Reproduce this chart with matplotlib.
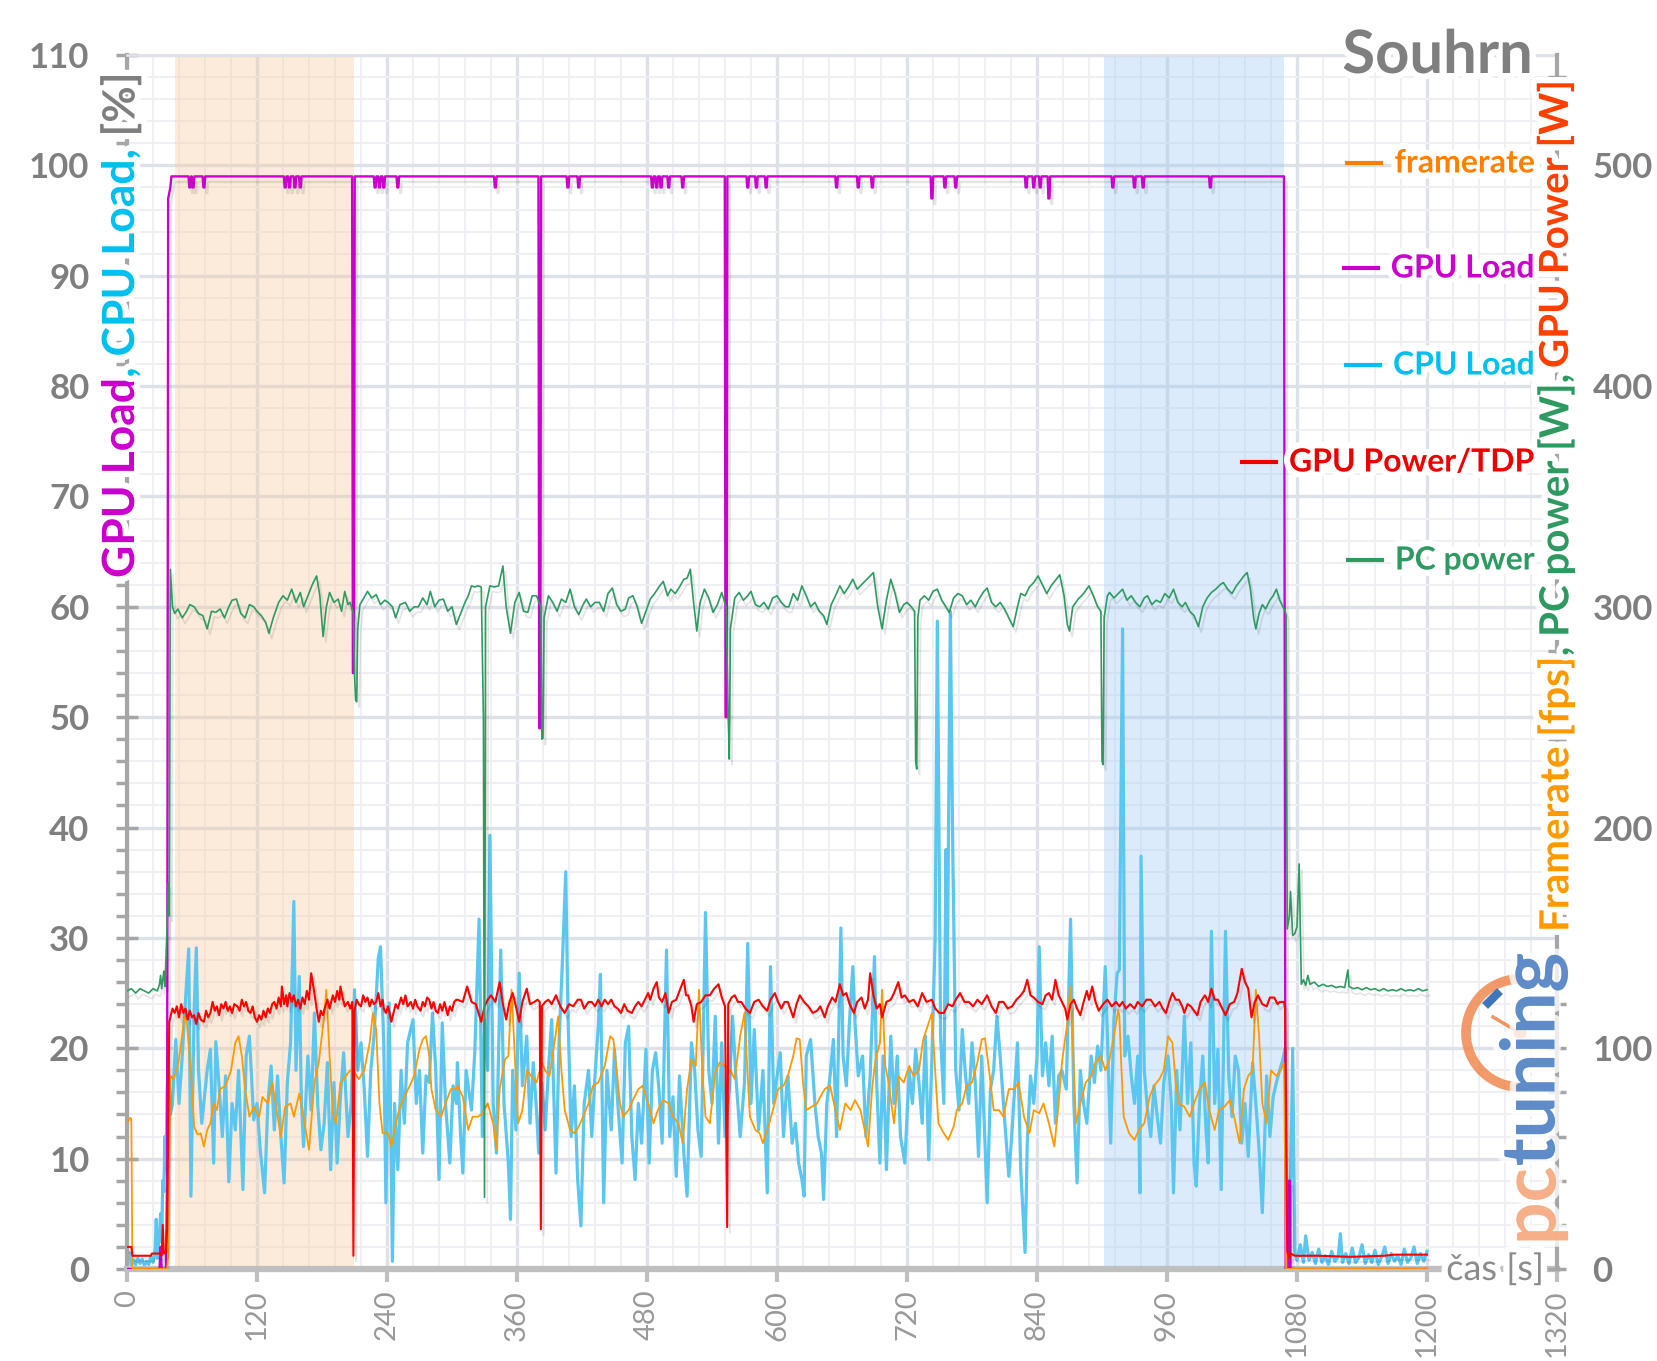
import matplotlib
matplotlib.use("Agg")
import numpy as np
import matplotlib.pyplot as plt
from matplotlib import patheffects as pe
from matplotlib.lines import Line2D
from matplotlib.patches import Arc, Circle
from matplotlib.ticker import MultipleLocator

plt.rcParams["font.family"] = ["Lato", "DejaVu Sans"]

# ---- data: (time [s], value) ----
cpu_load = [(0, 0.5), (2, 1.5), (4, 0.3), (6, 0.8), (8, 0.4), (10, 1.0), (12, 0.5), (14, 0.9), (16, 0.3),
            (18, 0.7), (20, 0.4), (22, 1.1), (24, 0.6), (26, 1.8), (27, 4.5), (28, 1.0), (30, 3.0), (31, 5.0),
            (32, 2.5), (33, 8.0), (34, 7.0), (35, 12.0), (36, 9.0), (37, 16.0), (38, 19.0), (40, 14.0),
            (42, 15), (45, 20.8), (48, 15), (51, 19.3), (54, 24.4), (57, 29), (59, 6.6), (62, 23.5), (64, 29.1),
            (66, 18), (69, 13.2), (74, 18), (77, 19.9), (80, 9.6), (82, 20.6), (85, 16.6), (88, 12), (91, 17.5),
            (94, 7.9), (97, 15), (100, 12.6), (103, 18), (107, 7.2), (110, 19.3), (113, 21.1), (117, 13.5),
            (120, 15), (123, 10.8), (127, 6.9), (130, 15), (133, 18.4), (136, 12.6), (139, 17.5), (142, 12),
            (145, 7.8), (148, 16.9), (151, 20.5), (154, 33.3), (156, 18), (159, 26.5), (161, 15), (163, 11.1),
            (167, 19.3), (170, 14.4), (173, 23.2), (176, 15), (179, 10.8), (182, 13.2), (185, 18.7), (188, 9),
            (191, 16.9), (194, 9.6), (197, 15.6), (200, 19.6), (204, 12), (207, 15), (210, 25.3), (213, 18),
            (216, 20.5), (219, 16.3), (222, 10.2), (225, 18), (228, 21.1), (232, 28.2), (234, 29.2), (237, 20.5),
            (239, 6), (242, 24.1), (245, 0.7), (247, 15), (250, 9), (253, 18), (256, 13.2), (259, 20.5),
            (264, 22.6), (267, 15), (270, 18), (273, 10.5), (276, 17.5), (279, 16.9), (282, 23.2), (285, 18),
            (288, 8.1), (291, 22.3), (294, 15), (298, 9.6), (301, 16.6), (304, 15),
            (305, 18.7), (308, 12), (310, 8.7), (313, 18), (318, 14.4), (321, 19.6), (325, 31.7), (328, 12),
            (330, 22.6), (333, 18), (335, 39.3), (338, 15), (341, 10.5), (345, 28.9), (348, 15), (352, 9.6),
            (354, 4.5), (356, 18), (359, 12.6), (362, 26.8), (365, 16.6), (369, 21.1), (372, 13.2), (375, 18.7),
            (378, 14.4), (380, 10.5), (383, 16.9), (386, 12.6), (389, 18), (392, 22.6), (396, 8.7), (399, 21.1),
            (402, 28), (405, 36), (407, 23.2), (410, 12), (413, 16.6), (416, 8.1), (419, 3.9), (422, 15),
            (426, 18), (429, 12), (432, 17.5), (435, 22), (437, 26.7), (440, 6), (443, 18), (447, 12.6),
            (450, 19.9), (453, 15), (457, 9.6), (460, 20.5), (463, 22), (466, 12), (469, 8.1), (472, 15),
            (475, 11.4), (479, 19.9), (482, 9.6), (485, 18), (488, 19.6), (491, 16.3), (494, 11.4), (498, 28.9),
            (501, 12), (504, 15.6), (507, 8.4), (510, 17.5), (514, 10.5), (517, 6.6), (521, 20.5), (524, 18),
            (527, 12.6), (530, 10.2), (534, 32.3), (537, 18), (540, 15), (543, 22.9), (546, 11.4), (549, 20.5),
            (552, 12), (556, 16.3), (559, 22.9), (562, 17.5), (566, 12), (570, 16.9), (573, 29.5), (576, 15),
            (579, 21.7), (583, 12.6), (587, 18), (591, 6.9), (594, 27.4), (597, 15), (600, 17.5), (603, 19.6),
            (606, 12), (609, 16.6),
            (610, 17.5), (614, 11.4), (617, 13.2), (620, 9.6), (623, 8.1), (625, 6.6), (627, 19.3), (631, 20.8),
            (635, 15), (638, 12), (641, 10.5), (643, 6.3), (646, 15), (649, 17.5), (652, 20.8), (655, 12),
            (659, 30.9), (661, 19.3), (664, 16.6), (667, 22.6), (670, 27.4), (672, 22.3), (675, 17.5),
            (679, 19.3), (682, 12), (686, 17.5), (690, 28.3), (692, 16.9), (695, 9.6), (698, 19.3), (701, 9),
            (705, 21.1), (708, 15), (711, 19.3), (714, 12), (718, 9.6), (722, 18), (725, 15), (728, 19.9),
            (731, 16.9), (734, 13.2), (737, 21.1), (740, 9.9), (743, 19.3), (746, 30), (748, 58.7), (751, 21.1),
            (754, 15), (756, 38), (757, 24.1), (760, 59.6), (762, 40), (765, 18), (768, 14.4), (771, 21.7),
            (774, 17.5), (777, 15), (780, 20.5), (783, 16.9), (786, 10.2), (789, 19.3), (794, 6), (797, 16.3),
            (800, 18), (803, 22.9), (806, 19.3), (809, 15), (814, 8.4), (817, 12.6), (822, 20.5), (825, 9),
            (829, 1.5), (831, 11.4), (834, 17.5), (837, 15), (840, 19.3), (842, 29.2), (845, 17.5), (848, 20.5),
            (851, 16.6), (854, 21.1), (857, 13.2), (860, 17.5), (863, 18), (867, 16.3), (871, 31.7), (874, 15),
            (877, 7.8), (880, 18), (883, 15), (886, 13.2), (890, 19.3), (893, 16.9), (896, 20.2), (899, 18),
            (903, 27.4), (908, 11.4), (911, 22.6), (914, 26.8),
            (916, 27.1), (919, 58), (921, 19.3), (924, 21.1), (927, 17.5), (930, 15), (933, 19.3), (935, 6.9),
            (936, 37.4), (939, 18), (942, 14.4), (945, 12), (948, 16.6), (951, 13.8), (954, 11.4), (957, 16.9),
            (961, 19.3), (964, 15), (966, 6.9), (969, 18), (972, 12.6), (976, 22.9), (979, 15), (982, 20.5),
            (985, 9.6), (987, 7.5), (990, 15), (993, 19.3), (996, 12.6), (998, 9.6), (1001, 30.6), (1004, 15),
            (1007, 19.9), (1010, 7.2), (1014, 30.6), (1017, 17.5), (1020, 13.8), (1023, 19.3), (1026, 18),
            (1029, 11.4), (1032, 15), (1035, 10.2), (1039, 18.7), (1042, 15), (1045, 10.8), (1048, 5.1),
            (1052, 17.5), (1055, 12), (1058, 15.6), (1061, 16.9), (1064, 18), (1067, 19), (1069, 20), (1071, 2),
            (1073, 0.5), (1076, 20), (1078, 1.5), (1080, 0.8), (1083, 2.2), (1086, 0.6), (1088, 3.0), (1091, 0.8),
            (1094, 1.5), (1097, 0.5), (1100, 1.8), (1103, 0.6), (1106, 1.2), (1109, 0.4), (1112, 1.6),
            (1115, 0.7), (1118, 1.1), (1120, 3.2), (1122, 0.6), (1125, 1.4), (1128, 0.5), (1131, 1.9),
            (1134, 0.6), (1137, 1.0), (1140, 2.2), (1143, 0.5), (1146, 1.3), (1149, 0.6), (1152, 1.7),
            (1155, 0.4), (1158, 1.1), (1161, 2.0), (1164, 0.5), (1167, 1.4), (1170, 0.7), (1173, 1.2),
            (1176, 0.4), (1179, 1.8), (1182, 0.6), (1185, 1.0), (1188, 2.0), (1191, 0.5), (1194, 1.4),
            (1197, 0.7), (1200, 1.6)]

gpu_power_w = [(0, 10), (4, 10), (5, 6), (22, 6), (23, 7), (30, 7), (32, 6), (33, 20), (34, 7), (36, 8),
               (37, 17.5), (38, 60), (39, 112), (42, 118), (44, 116), (46, 119), (48, 114), (50, 120), (52, 116),
               (54, 118), (56, 113), (58, 117), (60, 114), (62, 115), (64, 111), (66, 116), (68, 113), (71, 112),
               (73, 117), (75, 114), (77, 116), (79, 121), (81, 117), (83, 119), (85, 115), (87, 120), (89, 118),
               (91, 121), (93, 117), (95, 119), (97, 116), (99, 120), (102, 119), (104, 117), (106, 122),
               (108, 119), (110, 121), (112, 117), (114, 116), (116, 119), (118, 114), (120, 112), (122, 115),
               (124, 113), (126, 117), (128, 114), (130, 118), (132, 116), (134, 120), (136, 121), (138, 118),
               (140, 123), (142, 119), (143, 128), (145, 120), (147, 124), (148, 119), (150, 125), (152, 121),
               (154, 124), (156, 119), (158, 122), (160, 118), (162, 123), (164, 120), (166, 126), (168, 122),
               (170, 134), (172, 128), (173, 125), (175, 118), (177, 112), (179, 117), (181, 115), (183, 119),
               (185, 122), (187, 118), (190, 124), (192, 121), (194, 126), (196, 122), (197, 128), (199, 123),
               (201, 119), (204, 121), (206, 118), (208, 121), (209, 6), (210, 117), (212, 122), (214, 120),
               (216, 119), (218, 124), (220, 121), (222, 123), (224, 119), (226, 122), (228, 120), (230, 121),
               (232, 125), (234, 119), (236, 122), (237, 118), (239, 116), (241, 119), (244, 112), (246, 116),
               (248, 120), (250, 118), (253, 123), (255, 120), (257, 124), (259, 119), (262, 121), (264, 118),
               (266, 122), (268, 119), (271, 117), (273, 121), (275, 119), (277, 123), (279, 122), (281, 118),
               (283, 121), (285, 117), (287, 116), (289, 120), (291, 117), (293, 121), (296, 115), (298, 119),
               (300, 117), (302, 121), (304, 122),
               (305, 122), (310, 121), (314, 128), (318, 121), (322, 120), (327, 112), (330, 119), (333, 122),
               (336, 124), (340, 121), (344, 130), (347, 120), (350, 113), (353, 121), (356, 125), (359, 119),
               (362, 112), (365, 121), (369, 127), (372, 120), (376, 121), (379, 122), (381, 121), (382, 18),
               (383, 119), (386, 121), (389, 122), (392, 120), (396, 124), (400, 119), (404, 116), (408, 120),
               (412, 119), (416, 122), (419, 122), (422, 118), (426, 121), (429, 121), (432, 119), (435, 122),
               (438, 119), (441, 122), (444, 120), (447, 122), (450, 119), (453, 118), (456, 116), (459, 120),
               (462, 117), (466, 116), (469, 119), (472, 121), (475, 119), (478, 122), (481, 125), (483, 122),
               (486, 127), (489, 130), (491, 123), (494, 121), (497, 125), (500, 116), (503, 121), (507, 122),
               (510, 126), (514, 131), (516, 124), (518, 124), (521, 119), (523, 112), (526, 120), (530, 121),
               (534, 124), (538, 124), (542, 127), (546, 129), (549, 123), (552, 119), (554, 19), (555, 120),
               (558, 123), (561, 124), (564, 121), (567, 121), (571, 118), (575, 116), (579, 121), (583, 122),
               (587, 119), (591, 117), (594, 122), (598, 125), (601, 121), (604, 118), (607, 121),
               (610, 121), (615, 114), (618, 120), (621, 124), (625, 121), (629, 119), (633, 116), (637, 117),
               (640, 119), (644, 114), (647, 119), (651, 123), (654, 121), (658, 129), (661, 124), (664, 125),
               (667, 120), (671, 116), (674, 121), (678, 123), (681, 118), (684, 122), (686, 134), (689, 124),
               (692, 118), (695, 120), (697, 114), (701, 121), (705, 122), (708, 125), (712, 130), (715, 123),
               (718, 124), (722, 121), (726, 122), (730, 119), (734, 125), (738, 121), (743, 122), (746, 118),
               (750, 116), (754, 116), (758, 120), (762, 119), (765, 122), (769, 125), (773, 121), (777, 121),
               (781, 119), (785, 122), (789, 120), (794, 124), (798, 119), (802, 116), (805, 121), (809, 121),
               (813, 118), (817, 119), (821, 122), (825, 124), (828, 126), (831, 131), (834, 124), (837, 123),
               (841, 121), (845, 120), (848, 124), (851, 125), (854, 122), (857, 131), (860, 124), (863, 121),
               (866, 118), (868, 113), (871, 120), (874, 122), (877, 118), (880, 115), (883, 121), (886, 126),
               (888, 122), (891, 128), (894, 121), (897, 117), (901, 120), (905, 122), (909, 119), (913, 121),
               (916, 119), (919, 121), (922, 118), (926, 120), (930, 118), (933, 121), (937, 119), (941, 122),
               (945, 122), (949, 119), (953, 121), (956, 118), (959, 116), (962, 121), (965, 125), (968, 122),
               (971, 122), (974, 119), (976, 116), (979, 120), (982, 119), (985, 117), (988, 115), (991, 121),
               (995, 124), (998, 121), (1001, 127), (1004, 122), (1007, 122), (1010, 119), (1014, 115),
               (1018, 120), (1022, 121), (1025, 125), (1029, 136), (1032, 130), (1035, 127), (1038, 114),
               (1041, 121), (1044, 124), (1048, 120), (1052, 119), (1055, 123), (1059, 123), (1062, 120),
               (1064, 121), (1068, 121), (1069, 118), (1071, 8), (1073, 5), (1074, 7), (1078, 6), (1100, 6),
               (1130, 5.5), (1160, 6), (1170, 6.5), (1200, 6.5)]

framerate_fps = [(0, 66), (3, 68.5), (4, 68), (5, 0), (37, 0), (38, 5), (40, 87.5), (43, 86), (47, 92),
                 (50, 102.5), (53, 114.5), (55, 113), (59, 90), (62, 64.5), (65, 61), (68, 61.5), (71, 55.5),
                 (74, 63), (77, 66), (80, 75), (83, 72), (86, 81.5), (91, 83), (96, 90), (100, 102.5),
                 (103, 105.5), (106, 96.5), (109, 81.5), (113, 69), (117, 73.5), (122, 69), (125, 78), (130, 75),
                 (134, 84.5), (139, 69), (142, 60), (146, 73.5), (151, 75), (154, 69), (159, 79.5), (163, 69),
                 (168, 54), (173, 84.5), (177, 93.5), (182, 114.5), (184, 126.5), (187, 96.5), (190, 70.5),
                 (193, 66), (197, 84.5), (202, 87.5), (206, 90), (210, 89), (214, 86), (219, 90), (224, 102.5),
                 (227, 116), (230, 108.5), (233, 75), (236, 61.5), (241, 61.5), (244, 55.5), (247, 63), (251, 72),
                 (256, 78), (261, 83), (265, 87.5), (270, 99.5), (273, 104), (276, 105.5), (279, 96.5),
                 (281, 81.5), (285, 72), (290, 69), (294, 75), (299, 81.5), (304, 81.5),
                 (305, 83), (310, 78), (315, 63), (319, 69), (324, 69), (328, 70.5), (333, 75), (338, 66),
                 (341, 54), (344, 81.5), (349, 95), (352, 96.5), (355, 126.5), (358, 96.5), (361, 66), (365, 72),
                 (369, 90), (373, 87.5), (378, 84.5), (383, 93.5), (386, 90), (390, 87.5), (395, 104),
                 (398, 114.5), (401, 90), (404, 72), (409, 63), (413, 61.5), (417, 64.5), (421, 69), (426, 75),
                 (430, 83), (435, 84.5), (441, 92), (446, 105.5), (449, 104), (452, 90), (455, 75), (458, 69),
                 (463, 72), (467, 76.5), (472, 81.5), (476, 83), (481, 75), (486, 66), (490, 72), (495, 76.5),
                 (500, 75), (504, 69), (509, 66), (513, 57), (517, 81.5), (521, 95), (525, 92), (528, 126.5),
                 (531, 90), (534, 69), (538, 66), (543, 89), (547, 93.5), (552, 92), (557, 90), (561, 86),
                 (566, 105.5), (570, 116), (572, 96.5), (575, 69), (580, 63), (584, 61.5), (587, 57),
                 (592, 64.5), (597, 73.5), (601, 81.5), (606, 83),
                 (610, 87.5), (615, 96.5), (618, 104.5), (621, 104), (624, 84.5), (627, 72), (632, 73.5),
                 (637, 75), (640, 78), (644, 81.5), (649, 83), (654, 72), (658, 63), (663, 75), (668, 72),
                 (672, 76.5), (677, 72), (681, 63), (684, 55.5), (688, 83), (691, 95), (695, 102.5), (697, 126.5),
                 (700, 92), (703, 84.5), (708, 66), (712, 87.5), (717, 84.5), (722, 92), (726, 87.5), (731, 90),
                 (735, 104), (739, 110), (743, 116), (746, 90), (749, 66), (754, 61.5), (758, 58.5), (763, 64.5),
                 (766, 72), (771, 75), (775, 83), (780, 84.5), (785, 93.5), (789, 104), (792, 104.5), (796, 89),
                 (800, 72), (805, 72), (809, 69), (814, 81.5), (819, 81.5), (823, 84.5), (828, 69), (833, 61.5),
                 (837, 72), (842, 70.5), (846, 75), (851, 66), (856, 55.5), (860, 75), (863, 93.5), (868, 111.5),
                 (871, 128), (873, 102.5), (876, 66), (880, 75), (885, 84.5), (890, 87.5), (894, 93.5),
                 (899, 96.5), (903, 90), (907, 95), (911, 105.5), (915, 117.5),
                 (916, 114.5), (918, 90), (920, 69), (925, 61.5), (930, 58.5), (934, 63), (939, 66), (944, 78),
                 (948, 83), (953, 86), (957, 90), (961, 105.5), (965, 102.5), (968, 84.5), (971, 75), (976, 73.5),
                 (981, 69), (985, 75), (990, 81.5), (995, 84.5), (999, 72), (1004, 63), (1008, 72), (1013, 73.5),
                 (1018, 76.5), (1022, 69), (1027, 57), (1031, 81.5), (1035, 87.5), (1039, 90), (1042, 126.5),
                 (1045, 105.5), (1048, 75), (1052, 66), (1056, 90), (1061, 87.5), (1065, 90), (1068, 93.5),
                 (1070, 0), (1200, 0)]

pc_power_w = [(0, 126), (4, 127), (8, 125), (12, 127), (16, 126), (20, 125), (24, 127), (28, 126), (30, 129),
              (31, 133), (32, 127), (34, 135), (35, 128), (37, 155), (38, 175), (39, 160), (40, 317), (42, 300),
              (44, 297), (47, 299), (51, 295), (55, 298), (58, 301), (62, 300), (66, 297), (70, 296), (74, 290),
              (78, 298), (82, 297.5), (86, 299), (90, 295), (94, 300), (97, 303), (101, 303.5), (105, 297),
              (109, 295), (113, 301), (117, 300), (120, 298), (124, 296), (128, 293), (131, 288), (135, 295),
              (140, 302), (144, 305), (148, 303), (152, 308), (156, 302), (160, 306.5), (163, 300), (167, 305),
              (171, 310), (175, 314), (178, 305), (181, 286.5), (184, 300), (187, 306.5), (191, 302),
              (195, 303.5), (198, 298), (201, 307), (204, 301), (206, 302), (209, 297), (210, 270), (211, 258),
              (212, 257), (213, 290), (215, 301), (218, 303.5), (222, 307), (226, 304), (230, 305.5), (234, 301),
              (238, 303), (241, 302), (245, 300), (248, 295), (252, 301), (257, 302), (261, 298), (265, 300),
              (269, 300), (273, 304), (277, 301), (280, 307), (284, 300), (288, 303), (292, 303.5), (296, 298),
              (300, 300), (304, 292), (308, 297), (312, 302), (315, 305), (318, 309.5), (321, 309), (324, 309.5),
              (327, 309), (329, 250), (330, 32.5), (331, 300), (335, 309.5), (339, 309), (343, 309.5),
              (347, 318.5), (350, 300), (354, 288), (358, 302), (362, 306.5), (366, 298), (370, 297.5),
              (374, 305), (378, 305), (382, 300), (383, 240), (384, 240.5), (385, 295), (389, 305), (393, 302),
              (397, 298), (401, 303.5), (405, 302), (409, 308), (413, 300), (417, 296.5), (421, 301),
              (424, 303.5), (428, 300), (432, 302), (436, 302), (440, 298), (444, 306), (448, 308.5), (452, 301),
              (456, 298), (460, 299), (463, 304), (467, 305), (471, 300), (475, 292.5), (479, 298), (483, 303.5),
              (487, 306), (491, 309), (495, 311.5), (499, 305), (502, 308), (506, 306), (510, 309), (514, 312.5),
              (517, 313), (520, 317), (523, 302), (526, 289), (529, 302), (533, 308), (537, 304), (541, 297.5),
              (545, 301), (549, 306.5), (553, 300), (555, 250), (556, 231), (557, 290), (561, 304), (565, 306.5),
              (569, 303), (573, 305), (576, 307), (580, 301), (584, 300), (588, 302), (592, 299), (596, 304),
              (600, 305), (604, 302), (608, 300), (611, 300), (615, 306), (619, 303), (623, 309.5), (627, 305),
              (631, 300), (635, 302), (639, 298), (643, 296), (646, 292), (650, 301), (654, 305), (658, 309.5),
              (662, 306), (666, 309), (670, 312.5), (674, 308), (678, 310), (682, 312), (686, 314), (689, 315.5),
              (693, 300), (697, 290), (701, 303), (705, 312.5), (709, 306), (713, 297.5), (717, 301), (720, 302),
              (724, 300), (727, 298), (728, 230), (729, 226.5), (730, 295), (732, 303), (736, 305), (740, 303),
              (744, 307), (748, 308), (752, 303), (756, 300), (759, 297.5), (763, 304), (767, 306), (771, 305),
              (775, 301), (779, 303), (783, 300), (787, 304), (791, 307), (794, 308.5), (798, 302), (802, 300),
              (806, 302), (810, 299), (814, 295), (818, 291), (822, 300), (825, 306), (829, 305), (833, 309),
              (837, 311), (841, 314), (845, 310), (849, 306), (853, 309.5), (857, 312), (861, 314.5), (865, 305),
              (868, 292), (870, 289), (873, 300), (878, 303.5), (883, 306), (888, 309.5), (892, 305), (896, 300),
              (899, 298), (900, 230), (901, 228.5), (902, 295), (905, 305), (907, 306.5), (911, 304), (915, 306),
              (919, 308), (923, 303), (927, 305), (931, 302), (935, 300), (939, 304), (942, 305), (946, 301),
              (950, 303), (954, 302), (958, 306), (962, 304), (966, 308), (970, 302), (974, 300), (977, 302),
              (981, 298), (985, 296), (989, 291), (993, 300), (997, 304), (1001, 306.5), (1005, 308),
              (1009, 310), (1012, 311), (1016, 308), (1020, 306), (1024, 309.5), (1028, 312), (1031, 314),
              (1034, 315.5), (1037, 308), (1040, 295), (1042, 290), (1045, 297), (1048, 301), (1051, 299),
              (1055, 303), (1058, 305), (1061, 308), (1064, 303), (1067, 300), (1069, 298), (1070, 296),
              (1071, 154), (1073, 160), (1074, 171), (1076, 151), (1078, 152), (1080, 155), (1082, 183.5),
              (1084, 129), (1086, 131), (1088, 128.5), (1090, 133), (1092, 129), (1096, 130), (1100, 128),
              (1104, 129), (1108, 128), (1112, 128.5), (1116, 127.5), (1120, 128), (1124, 127.5), (1127, 135.5),
              (1128, 128), (1132, 127), (1136, 127.5), (1140, 126.5), (1144, 127.5), (1148, 126.5), (1152, 127),
              (1156, 126), (1160, 127), (1164, 126), (1168, 126.5), (1172, 126), (1176, 127), (1180, 126),
              (1184, 126.5), (1188, 126), (1192, 127), (1196, 126), (1200, 126.5)]

# GPU load sits at 99 % while the game runs; these are the short drops away from it
gpu_load_start = [(0, 0), (30, 0), (31, 2), (32, 0), (36, 0), (37, 8), (38, 97), (40, 98), (41, 99)]
gpu_load_dips = [(58, 98), (61, 98), (71, 98), (146, 98), (150, 98), (155, 98), (160, 98), (209, 54),
                 (229, 98), (233, 98), (237, 98), (250, 98), (340, 98), (381, 49), (407, 98), (417, 98),
                 (485, 98), (489, 98), (493, 98), (500, 98), (513, 98), (553, 50), (573, 98), (581, 98),
                 (590, 98), (655, 98), (675, 98), (688, 98), (743, 97), (755, 98), (765, 98), (830, 98),
                 (837, 98), (843, 98), (851, 97), (910, 98), (930, 98), (938, 98), (1000, 98)]
gpu_load_end = [(1068, 99), (1069.5, 0), (1072, 0), (1072.5, 8), (1073.5, 8), (1074, 0), (1200, 0)]

shaded_spans = [(44, 210, "#F8C89A"), (902, 1068, "#9CC8F4")]

# ---- figure ----
W, H = 1658, 1361
fig = plt.figure(figsize=(W / 100, H / 100), dpi=100)
ax = fig.add_axes([127 / W, 1 - 1269 / H, (1557 - 127) / W, (1269 - 55) / H])
ax2 = ax.twinx()
ax.set_xlim(0, 1320)
ax.set_ylim(0, 110)
ax2.set_ylim(0, 550)

GRAY = "#7f7f7f"
halo = [pe.withStroke(linewidth=9, foreground="white")]
shadow = [pe.SimpleLineShadow(offset=(2, -4), shadow_color="#000000", alpha=0.10), pe.Normal()]

ax.xaxis.set_major_locator(MultipleLocator(120))
ax.xaxis.set_minor_locator(MultipleLocator(24))
ax.yaxis.set_major_locator(MultipleLocator(10))
ax.yaxis.set_minor_locator(MultipleLocator(2))
ax.set_axisbelow(True)
ax.grid(which="major", color="#dde1e8", lw=2.4)
ax.grid(which="minor", color="#eef0f4", lw=1.4)

for x0, x1, c in shaded_spans:
    ax.axvspan(x0, x1, color=c, alpha=0.35, lw=0, zorder=0.8)

ax.spines["right"].set_visible(False)
ax.spines["top"].set_color("#dde1e8")
ax.spines["top"].set_linewidth(2)
ax.spines["left"].set_color("#a6a6a6")
ax.spines["left"].set_linewidth(3)
ax.spines["bottom"].set_color("#bfbfbf")
ax.spines["bottom"].set_linewidth(4.5)
for s in ["left", "top", "bottom"]:
    ax2.spines[s].set_visible(False)
ax2.spines["right"].set_color("#a6a6a6")
ax2.spines["right"].set_linewidth(3)

ax.set_yticks(range(0, 111, 10))
ax.set_yticklabels([str(v) for v in range(0, 111, 10)], fontweight="bold")
ax.tick_params(axis="y", which="major", direction="inout", length=16, width=2.5, color="#a6a6a6",
               pad=19, labelsize=25, labelcolor=GRAY)
ax.tick_params(axis="y", which="minor", direction="out", length=8, width=2.5, color="#a6a6a6")
ax.tick_params(axis="x", which="major", direction="out", length=9, width=3, color="#bfbfbf", pad=6,
               labelsize=21, labelcolor="#999999", labelrotation=90)
ax.tick_params(axis="x", which="minor", length=0)

ax2.set_yticks(range(0, 501, 100))
ax2.set_yticklabels([str(v) for v in range(0, 501, 100)], fontweight="bold")
ax2.yaxis.set_minor_locator(MultipleLocator(20))
ax2.tick_params(axis="y", which="both", direction="inout", length=13, width=2.5, color="#a6a6a6")
ax2.tick_params(axis="y", which="major", pad=19, labelsize=25, labelcolor=GRAY)


def xy(series):
    return [p[0] for p in series], [p[1] for p in series]


# GPU load path built from the start, the dips and the end
gpu_pts = list(gpu_load_start)
for t, v in gpu_load_dips:
    gpu_pts += [(t - 1.2, 99), (t - 0.5, v), (t + 0.5, v), (t + 1.2, 99)]
gpu_pts += gpu_load_end

ax.plot(*xy(cpu_load), color="#5BC6F0", lw=2.3, zorder=2)
ax.plot(*xy(gpu_pts), color="#CC00CC", lw=1.7, zorder=3, path_effects=shadow)
ax2.plot(*xy(framerate_fps), color="#FF9900", lw=1.3)
ax2.plot(*xy(gpu_power_w), color="#FF0000", lw=1.5, path_effects=shadow)
ax2.plot(*xy(pc_power_w), color="#2E9A62", lw=1.2, path_effects=shadow)

renderer = fig.canvas.get_renderer()


def stack_up(x_px, bottom_px, pieces, size, weight="bold", alpha=1.0):
    # pieces go from bottom to top, each (text, colour, gap below in px)
    y = bottom_px
    for text, color, gap in pieces:
        y -= gap
        t = fig.text(x_px / W, 1 - y / H, text, rotation=90, ha="center", va="bottom", color=color,
                     fontsize=size, fontweight=weight, alpha=alpha, path_effects=halo)
        bb = t.get_window_extent(renderer)
        y = H - bb.y1


stack_up(121, 578, [("GPU Load", "#CC00CC", 0), (", CPU Load,", "#00C0F0", 0), ("[%]", GRAY, 12)], 32)
stack_up(1556, 932, [("Framerate [fps]", "#FF9900", 0), (", PC power [W],", "#2E9A62", 0),
                     ("GPU Power [W]", "#FF4000", 6)], 29)

fig.text(1533 / W, 1 - 73 / H, "Souhrn", ha="right", va="baseline", fontsize=43, fontweight="bold",
         color=GRAY, path_effects=halo)
fig.text(1495 / W, 1 - 1269 / H, "čas [s]", ha="center", va="center", fontsize=26, color="#8c8c8c",
         path_effects=halo)

# legend entries
legend_items = [("framerate", "#FF8000", 163), ("GPU Load", "#CC00CC", 268), ("CPU Load", "#00C0F0", 365),
                ("GPU Power/TDP", "#EE0000", 462), ("PC power", "#2E9A62", 560)]
for label, color, yc in legend_items:
    t = fig.text(1535 / W, 1 - yc / H, label, ha="right", va="center", fontsize=23, fontweight="bold",
                 color=color, path_effects=halo)
    bb = t.get_window_extent(renderer)
    x1 = bb.x0 - 13
    fig.add_artist(Line2D([(x1 - 34) / W, x1 / W], [1 - yc / H, 1 - yc / H], color=color, lw=3,
                          transform=fig.transFigure))

# pctuning watermark
stack_up(1534, 1245, [("pc", "#F5A070", 0), ("tuning", "#3F75BD", 0)], 54, alpha=0.8)
cx, cy, r = 1520, 1033, 54
fig.add_artist(Arc((cx / W, 1 - cy / H), 2 * r / W, 2 * r / H, theta1=88, theta2=272, color="#F08850",
                   lw=7, alpha=0.85, transform=fig.transFigure))
fig.add_artist(Line2D([cx / W, 1493 / W], [1 - cy / H, 1 - 1017 / H], color="#F08850", lw=2.5, alpha=0.9,
                      transform=fig.transFigure))
fig.add_artist(Circle((cx / W, 1 - cy / H), 6 / W, color="#F08850", alpha=0.9, transform=fig.transFigure))
fig.add_artist(Line2D([1488 / W, 1497 / W], [1 - 1003 / H, 1 - 994 / H], color="#3F75BD", lw=6,
                      transform=fig.transFigure))

fig.savefig("out.png", dpi=100, facecolor="white")
